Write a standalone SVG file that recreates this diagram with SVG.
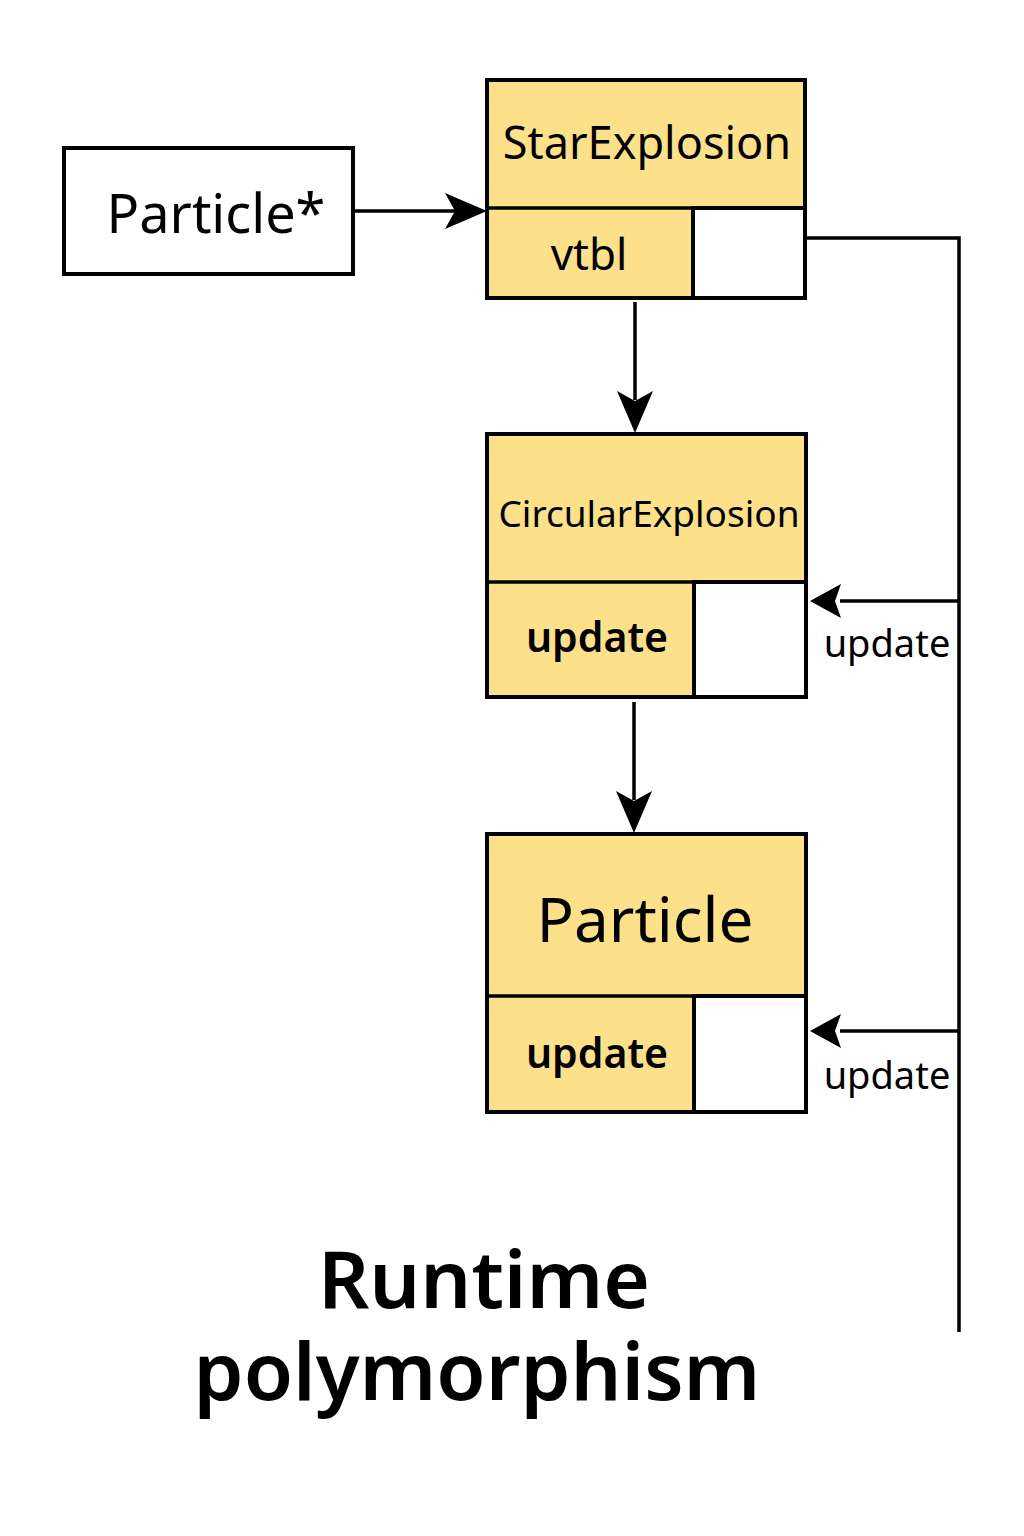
<svg xmlns="http://www.w3.org/2000/svg" width="1024" height="1536" viewBox="0 0 1024 1536">
<style>
.box{fill:#FCE08A;stroke:#000;stroke-width:4}
.w{fill:#fff;stroke:#000;stroke-width:4}
.ln{fill:none;stroke:#000;stroke-width:3.5}
.t{font-family:"Noto Sans","Open Sans",sans-serif;fill:#000;text-anchor:middle}
.ah{fill:#000}
</style>
<rect width="1024" height="1536" fill="#fff"/>
<g id="connectors">
<line class="ln" x1="353" y1="211" x2="455" y2="211"/>
<polygon class="ah" points="487,211 445,193 455,211 445,229"/>
<polyline class="ln" points="805,238 959,238 959,1332"/>
<line class="ln" x1="635" y1="302" x2="635" y2="400"/>
<polygon class="ah" points="635,433 617,391 635,401 653,391"/>
<line class="ln" x1="634" y1="702" x2="634" y2="800"/>
<polygon class="ah" points="634,833 616,791 634,801 652,791"/>
<line class="ln" x1="959" y1="601" x2="840" y2="601"/>
<polygon class="ah" points="810,601 841,584 835,601 841,618"/>
<line class="ln" x1="959" y1="1031" x2="840" y2="1031"/>
<polygon class="ah" points="810,1031 841,1014 835,1031 841,1048"/>
<text class="t" x="887" y="657" font-size="38">update</text>
<text class="t" x="887" y="1089" font-size="38">update</text>
</g>
<g id="particle-ptr">
<rect class="w" x="64" y="148" width="289" height="126"/>
<text class="t" x="216" y="233" font-size="54">Particle*</text>
</g>
<g id="star-explosion">
<rect class="box" x="487" y="80" width="318" height="218"/>
<line class="ln" x1="487" y1="208" x2="805" y2="208" stroke-width="4"/>
<rect class="w" x="693" y="208" width="112" height="90"/>
<text class="t" x="647" y="159" font-size="45">StarExplosion</text>
<text class="t" x="589" y="270" font-size="44">vtbl</text>
</g>
<g id="circular-explosion">
<rect class="box" x="487" y="434" width="319" height="263"/>
<line class="ln" x1="487" y1="582" x2="806" y2="582" stroke-width="4"/>
<rect class="w" x="694" y="582" width="112" height="115"/>
<text class="t" x="649" y="527" font-size="37">CircularExplosion</text>
<text class="t" x="597" y="652" font-size="41" font-weight="600">update</text>
</g>
<g id="particle">
<rect class="box" x="487" y="834" width="319" height="278"/>
<line class="ln" x1="487" y1="996" x2="806" y2="996" stroke-width="4"/>
<rect class="w" x="694" y="996" width="112" height="116"/>
<text class="t" x="645" y="942" font-size="62">Particle</text>
<text class="t" x="597" y="1068" font-size="41" font-weight="600">update</text>
</g>
<g id="title">
<text class="t" font-size="80" font-weight="600"><tspan x="484" y="1308">Runtime</tspan><tspan x="477" y="1400">polymorphism</tspan></text>
</g>
</svg>
